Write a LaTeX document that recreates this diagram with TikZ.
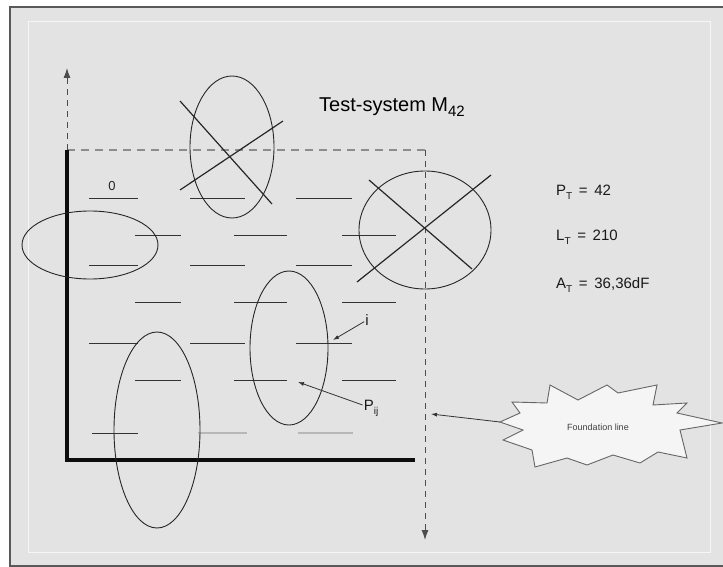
\documentclass[tikz,border=0pt]{standalone}
\usepackage{fontspec}
\setmainfont{Liberation Sans}
\usetikzlibrary{arrows.meta}

\begin{document}
\begin{tikzpicture}[
  x=1pt, y=-1pt,
  level/.style={draw=black!80, line width=1pt},
  faint/.style={draw=black!28, line width=1.6pt},
  ring/.style={draw=black!85, line width=0.9pt},
  cross/.style={draw=black!85, line width=1.2pt},
  axis/.style={draw=black!95, line width=3.8pt, line join=miter},
  guide/.style={draw=black!70, dash pattern=on 6pt off 5pt, line width=1pt},
  topguide/.style={draw=black!45, dash pattern=on 8pt off 6pt, line width=1.8pt},
  tip/.style={-{Latex[length=10pt,width=7pt]}},
  ptr/.style={-{Latex[length=6pt,width=4pt]}, draw=black!80, line width=0.8pt},
  lab/.style={font=\fontsize{15}{17}\selectfont, text=black!90, inner sep=1pt},
  burst/.style={draw=black!60, fill=black!4, line width=0.9pt, line join=miter}
]
\useasboundingbox (0,0) rectangle (723,567);
\fill[white] (0,0) rectangle (723,567);
\draw[black!65, fill=black!11, line width=1.2pt] (10,7) rectangle (730,566);
\draw[white, opacity=0.7, line width=1pt] (28,22) rectangle (710,552);

% axes and guide lines
\coordinate (top) at (67,68);
\coordinate (corner) at (67,150);
\coordinate (orig) at (67,460);
\coordinate (xend) at (415,460);
\coordinate (tr) at (425,150);
\coordinate (bot) at (425,540);

\draw[topguide] (corner) -- (tr);
\draw[guide, tip] (corner) -- (top);
\draw[guide, tip] (tr) -- (bot);
\draw[axis] (corner) -- (orig) -- (xend);

% energy levels
\foreach \yy in {198,265,343}
  \foreach \xa/\xb in {89/138,190/245,296/352}
    \draw[level] (\xa,\yy) -- (\xb,\yy);
\foreach \yy in {235,302,380}
  \foreach \xa/\xb in {135/181,234/287,342/396}
    \draw[level] (\xa,\yy) -- (\xb,\yy);
\draw[level] (92,433) -- (138,433);
\draw[faint] (198,433) -- (247,433);
\draw[faint] (298,433) -- (353,433);
\node[font=\fontsize{13}{14}\selectfont, text=black!85] (zero) at (112,186) {0};

% groups
\draw[ring] (232,147) ellipse [x radius=42pt, y radius=71pt];
\draw[cross] (180,101) -- (272,204);
\draw[cross] (180,190) -- (283,121);
\draw[ring] (425,230) ellipse [x radius=66pt, y radius=59pt];
\draw[cross] (369,180) -- (472,269);
\draw[cross] (357,282) -- (491,175);
\draw[ring] (90,245) ellipse [x radius=68pt, y radius=34pt];
\draw[ring] (289,348) ellipse [x radius=39pt, y radius=77pt];
\draw[ring] (157,430) ellipse [x radius=43pt, y radius=98pt];

% labels
\node[lab, font=\fontsize{20}{22}\selectfont, text=black] (title) at (392,107)
  {Test-system M\raisebox{-5pt}{\fontsize{15}{15}\selectfont 42}};
\node[lab, anchor=west] (pt) at (555,192) {P\raisebox{-4pt}{\fontsize{10}{10}\selectfont T} \,=\, 42};
\node[lab, anchor=west] (lt) at (555,237) {L\raisebox{-4pt}{\fontsize{10}{10}\selectfont T} \,=\, 210};
\node[lab, anchor=west] (at) at (555,285) {A\raisebox{-4pt}{\fontsize{10}{10}\selectfont T} \,=\, 36,36dF};

\coordinate (iend) at (333,340);
\coordinate (pend) at (298,382);
\node[lab] (ilab) at (367,320) {i};
\node[lab] (plab) at (371,408) {P\raisebox{-4pt}{\fontsize{10}{10}\selectfont ij}};
\draw[ptr] (ilab) -- (iend);
\draw[ptr] (plab) -- (pend);

% callout
\draw[burst] (512,402) -- (547,403) -- (550,385) -- (578,400) -- (607,385)
  -- (618,393) -- (657,385) -- (653,405) -- (687,403) -- (677,413)
  -- (722,423) -- (680,430) -- (687,458) -- (658,452) -- (640,463)
  -- (613,455) -- (587,465) -- (567,458) -- (535,467) -- (532,450)
  -- (503,440) -- (523,430) -- (500,422) -- (520,413) -- cycle;
\node[font=\fontsize{9}{10}\selectfont, text=black!75] (foot) at (598,427) {Foundation line};
\coordinate (burstL) at (500,422);
\coordinate (fline) at (431,414);
\draw[ptr] (burstL) -- (fline);
\end{tikzpicture}
\end{document}
